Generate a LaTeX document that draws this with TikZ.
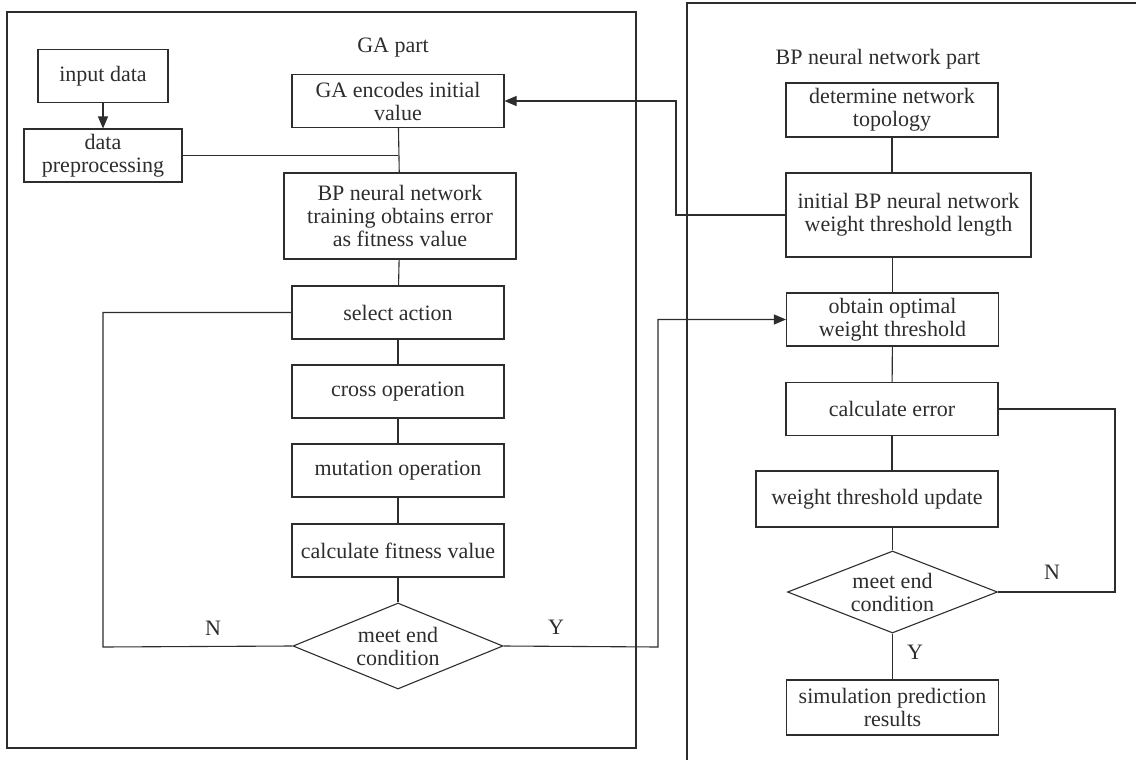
\documentclass[tikz,border=0pt]{standalone}
\usepackage{fontspec}
\setmainfont{Liberation Serif}
\usetikzlibrary{arrows.meta, shapes.geometric, positioning}
\definecolor{lineg}{RGB}{45,45,45}

\begin{document}
\begin{tikzpicture}[x=0.5pt, y=-0.5pt, line width=0.55pt, draw=lineg, text=lineg,
    every node/.style={font=\fontsize{11}{11.5}\selectfont},
    box/.style={draw, rectangle, align=center, inner sep=1pt, minimum width=106pt, minimum height=26.5pt},
    cond/.style={draw, diamond, align=center, aspect=2.45, inner sep=0pt, minimum width=105pt, minimum height=43pt},
    arr/.style={-{Triangle[length=6pt, width=5pt]}}]
    \useasboundingbox (0,0) rectangle (1136,760);
    % frames
    \draw (7,12) rectangle (636,748);
    \draw (1140,3) -| (687,765);
    \node (galabel) at (393,48) {GA part};
    \node (bplabel) at (878,59) {BP neural network part};
    % GA part
    \node[box, minimum width=65pt] (input) at (103,76) {input data};
    \node[box, minimum width=79pt] (prep) at (103,155.5) {data\\preprocessing};
    \node[box] (enc) at (398,101) {GA encodes initial\\value};
    \node[box, minimum width=116pt, minimum height=43pt] (train) at (400,216) {BP neural network\\training obtains error\\as fitness value};
    \node[box] (sel) at (398,312.5) {select action};
    \node[box] (cross) at (398,391.5) {cross operation};
    \node[box] (mut) at (398,470.5) {mutation operation};
    \node[box] (fit) at (398,550.5) {calculate fitness value};
    \node[cond] (endga) at (398,646) {meet end\\condition};
    % BP part
    \node[box, minimum height=27pt] (topo) at (892,110) {determine network\\topology};
    \node[box, minimum width=122.5pt, minimum height=42pt] (init) at (908.5,215) {initial BP neural network\\weight threshold length};
    \node[box] (opt) at (892.5,319.5) {obtain optimal\\weight threshold};
    \node[box] (err) at (892,409) {calculate error};
    \node[box, minimum width=121pt, minimum height=28pt] (upd) at (877,499) {weight threshold update};
    \node[cond, minimum height=41pt] (endbp) at (892.5,592) {meet end\\condition};
    \node[box, minimum height=27.5pt] (sim) at (892.5,707.5) {simulation prediction\\results};
    \coordinate (loopl) at (103,647);
    \coordinate (yturn) at (658,647);
    \coordinate (backturn) at (676,215);
    \coordinate (loopr) at (1115,409);
    \node (nl) at (213,628) {N};
    \node (yl) at (556,627) {Y};
    \node (nr) at (1052,572) {N};
    \node (yr) at (915,652) {Y};
    % connectors
    \draw[arr] (input) -- (prep);
    \draw (enc) -- (train);
    \draw (prep.east) -- (prep.east -| enc.south);
    \draw (train) -- (sel);
    \draw (sel) -- (cross);
    \draw (cross) -- (mut);
    \draw (mut) -- (fit);
    \draw (fit) -- (endga);
    \draw (endga.west) -- (loopl) |- (sel.west);
    \draw[arr] (endga.east) -- (yturn) |- (opt.west);
    \draw[arr] (init.west) -- (backturn) |- (enc.east);
    \draw (topo.south) -- (topo.south |- init.north);
    \draw (init.south -| opt.north) -- (opt.north);
    \draw (opt) -- (err);
    \draw (err.south) -- (err.south |- upd.north);
    \draw (upd.south -| endbp.north) -- (endbp.north);
    \draw (endbp) -- (sim);
    \draw (err.east) -- (loopr) |- (endbp.east);
\end{tikzpicture}
\end{document}
